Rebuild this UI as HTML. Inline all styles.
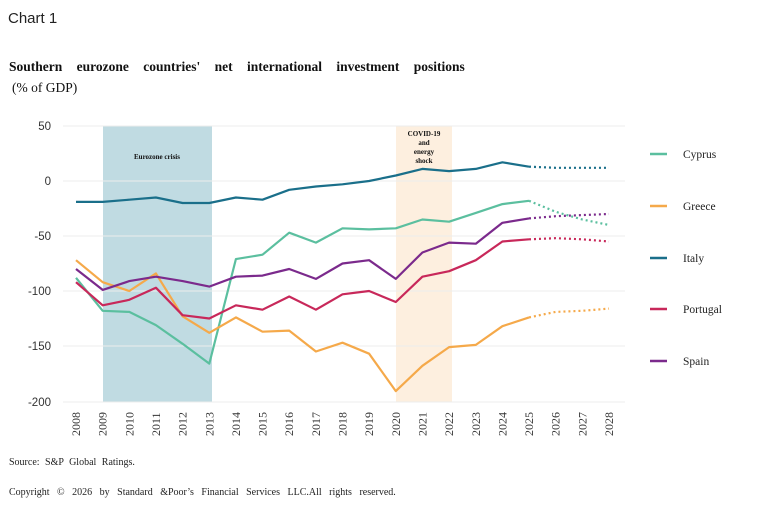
<!DOCTYPE html>
<html><head><meta charset="utf-8"><style>
html,body{margin:0;padding:0;background:#fff;width:768px;height:510px;overflow:hidden}
svg{display:block}
.s{font-family:"Liberation Sans",sans-serif}
.r{font-family:"Liberation Serif",serif}
</style></head><body>
<svg id="c" width="768" height="510" viewBox="0 0 768 510" xmlns="http://www.w3.org/2000/svg">
<text x="8" y="23" class="s" font-size="15" fill="#222">Chart 1</text>
<text x="9" y="71" class="r" font-size="13.5" font-weight="bold" fill="#111" word-spacing="11">Southern eurozone countries' net international investment positions</text>
<text x="12" y="92" class="r" font-size="13.5" fill="#111">(% of GDP)</text>
<rect x="103" y="126" width="109" height="276" fill="#c0dbe2"/>
<rect x="396" y="126" width="56" height="276" fill="#fdefdf"/>
<text x="157" y="159" class="r" font-size="7" font-weight="bold" text-anchor="middle" fill="#111">Eurozone crisis</text>
<g class="r" font-size="7" font-weight="bold" text-anchor="middle" fill="#111">
<text x="424" y="136">COVID-19</text><text x="424" y="145">and</text><text x="424" y="154">energy</text><text x="424" y="163">shock</text></g>
<g stroke="#ececec" stroke-width="1">
<line x1="63" x2="625" y1="126" y2="126"/><line x1="63" x2="625" y1="181" y2="181"/>
<line x1="63" x2="625" y1="236" y2="236"/><line x1="63" x2="625" y1="291" y2="291"/>
<line x1="63" x2="625" y1="346" y2="346"/><line x1="63" x2="625" y1="402" y2="402"/></g>
<g class="s" font-size="11.5" fill="#333" text-anchor="end">
<text x="51" y="130">50</text><text x="51" y="185">0</text><text x="51" y="240">-50</text>
<text x="51" y="295">-100</text><text x="51" y="350">-150</text><text x="51" y="406">-200</text></g>
<g id="xl" class="r" font-size="12" fill="#333"></g>
<g id="ln" fill="none" stroke-width="2.2" stroke-linejoin="round"></g>
<g class="r" font-size="11.5" fill="#222">
<line x1="650" x2="667" y1="154" y2="154" stroke="#5bbf9f" stroke-width="2.5"/><text x="683" y="158">Cyprus</text>
<line x1="650" x2="667" y1="206" y2="206" stroke="#f5a94a" stroke-width="2.5"/><text x="683" y="210">Greece</text>
<line x1="650" x2="667" y1="258" y2="258" stroke="#1a6f8a" stroke-width="2.5"/><text x="683" y="262">Italy</text>
<line x1="650" x2="667" y1="309" y2="309" stroke="#c8285a" stroke-width="2.5"/><text x="683" y="313">Portugal</text>
<line x1="650" x2="667" y1="361" y2="361" stroke="#7b2a8c" stroke-width="2.5"/><text x="683" y="365">Spain</text>
</g>
<text x="9" y="465" class="r" font-size="10" fill="#222" word-spacing="3">Source:  S&amp;P Global Ratings.</text>
<text x="9" y="495" class="r" font-size="10" fill="#222" word-spacing="5">Copyright © 2026 by Standard &amp;Poor’s Financial Services LLC.All rights reserved.</text>
</svg>
<script>
var X=function(i){return 76+26.65*i},Y=function(v){return 181-v*1.1};
var xl=document.getElementById('xl'),ns='http://www.w3.org/2000/svg';
for(var i=0;i<21;i++){var t=document.createElementNS(ns,'text');var x=X(i)+4,y=436;t.setAttribute('x',x);t.setAttribute('y',y);t.setAttribute('transform','rotate(-90 '+x+' '+y+')');t.textContent=2008+i;xl.appendChild(t);}
var S=[["#5bbf9f",[-88,-118,-119,-131,-148,-166,-71,-67,-47,-56,-43,-44,-43,-35,-37,-29,-21,-18,-28,-35,-40]],
["#f5a94a",[-72,-92,-100,-84,-123,-138,-124,-137,-136,-155,-147,-157,-191,-168,-151,-149,-132,-124,-119,-118,-116]],
["#1a6f8a",[-19,-19,-17,-15,-20,-20,-15,-17,-8,-5,-3,0,5,11,9,11,17,13,12,12,12]],
["#c8285a",[-92,-113,-108,-97,-122,-125,-113,-117,-105,-117,-103,-100,-110,-87,-82,-72,-55,-53,-52,-53,-55]],
["#7b2a8c",[-80,-99,-91,-87,-91,-96,-87,-86,-80,-89,-75,-72,-89,-65,-56,-57,-38,-34,-32,-31,-30]]];
var g=document.getElementById('ln');
S.forEach(function(s){var a=[],b=[];for(var i=0;i<21;i++){var p=X(i).toFixed(1)+','+Y(s[1][i]).toFixed(1);if(i<=17)a.push(p);if(i>=17)b.push(p);}
var p1=document.createElementNS(ns,'polyline');p1.setAttribute('points',a.join(' '));p1.setAttribute('stroke',s[0]);g.appendChild(p1);
var p2=document.createElementNS(ns,'polyline');p2.setAttribute('points',b.join(' '));p2.setAttribute('stroke',s[0]);p2.setAttribute('stroke-dasharray','2 3');g.appendChild(p2);});
</script>
</body></html>
